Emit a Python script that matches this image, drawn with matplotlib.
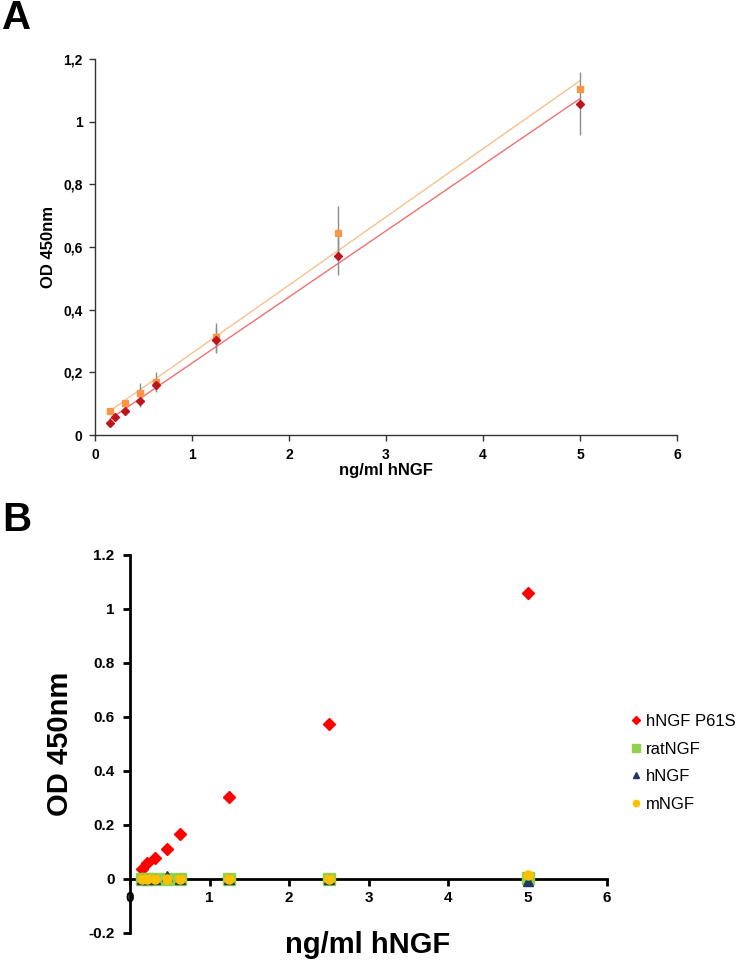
import numpy as np
import matplotlib
matplotlib.use("Agg")
import matplotlib.pyplot as plt

plt.rcParams['font.family'] = ['Liberation Sans', 'DejaVu Sans']

# ---------------- Panel A data ----------------
xA_red = [0.156, 0.208, 0.3125, 0.46875, 0.625, 1.25, 2.5, 5.0]
yA_red = [0.037, 0.056, 0.077, 0.108, 0.158, 0.303, 0.571, 1.057]
eA_red = [0.004, 0.005, 0.008, 0.02, 0.02, 0.04, 0.06, 0.10]

xA_org = [0.156, 0.3125, 0.46875, 0.625, 1.25, 2.5, 5.0]
yA_org = [0.077, 0.101, 0.135, 0.170, 0.314, 0.645, 1.105]
eA_org = [0.004, 0.008, 0.03, 0.03, 0.045, 0.085, 0.01]

xA_ticks = [0, 1, 2, 3, 4, 5, 6]
yA_ticks = [0, 0.2, 0.4, 0.6, 0.8, 1.0, 1.2]
yA_ticklabels = ['0', '0,2', '0,4', '0,6', '0,8', '1', '1,2']

# ---------------- Panel B data ----------------
xB = [0.156, 0.208, 0.3125, 0.46875, 0.625, 1.25, 2.5, 5.0]
yB_p61s = [0.037, 0.058, 0.078, 0.111, 0.166, 0.305, 0.574, 1.06]
yB_rat = [0.0, 0.0, 0.0, 0.0, 0.0, 0.0, 0.0, 0.002]
yB_h = [0.0, 0.0, 0.0, 0.012, 0.0, 0.0, 0.0, -0.008]
yB_m = [0.0, 0.0, 0.0, 0.0, 0.0, 0.0, 0.0, 0.015]
labelsB = ['hNGF P61S', 'ratNGF', 'hNGF', 'mNGF']

xB_ticks = [0, 1, 2, 3, 4, 5, 6]
yB_ticks = [-0.2, 0, 0.2, 0.4, 0.6, 0.8, 1.0, 1.2]
yB_ticklabels = ['-0.2', '0', '0.2', '0.4', '0.6', '0.8', '1', '1.2']

fig = plt.figure(figsize=(7.44, 9.69), dpi=100)

# ================= Panel A =================
axA = fig.add_axes([95/744, 1-435/969, (677-95)/744, (435-59)/969])
axA.set_xlim(0, 6)
axA.set_ylim(0, 1.2)

# trend lines
for xs, ys, col in [(xA_org, yA_org, '#FAC090'), (xA_red, yA_red, '#F07070')]:
    p = np.polyfit(xs, ys, 1)
    xx = np.array([min(xs), max(xs)])
    axA.plot(xx, np.polyval(p, xx), color=col, lw=1.0, zorder=2)

axA.errorbar(xA_org, yA_org, yerr=eA_org, fmt='none', ecolor='#8C8C8C', elinewidth=1.0, capsize=0, zorder=3)
axA.errorbar(xA_red, yA_red, yerr=eA_red, fmt='none', ecolor='#8C8C8C', elinewidth=1.0, capsize=0, zorder=3)
axA.plot(xA_org, yA_org, 's', color='#F79646', ms=5, mec='#F79646', zorder=4)
axA.plot(xA_red, yA_red, 'D', color='#C0141C', ms=4.5, mec='#C0141C', zorder=5)

axA.set_xticks(xA_ticks)
axA.set_yticks(yA_ticks)
axA.set_yticklabels(yA_ticklabels)
for s in ['top', 'right']:
    axA.spines[s].set_visible(False)
for s in ['left', 'bottom']:
    axA.spines[s].set_color('#333333')
    axA.spines[s].set_linewidth(1.0)
axA.tick_params(direction='out', length=4, width=1.0, color='#333333', labelsize=10, pad=5)
for lab in axA.get_xticklabels() + axA.get_yticklabels():
    lab.set_fontweight('bold')
axA.set_xlabel('ng/ml hNGF', fontsize=12, fontweight='bold', labelpad=1)
axA.set_ylabel('OD 450nm', fontsize=12, fontweight='bold', labelpad=5)

fig.text(2/744, 1-18/969, 'A', fontsize=29, fontweight='bold', va='center', ha='left')

# ================= Panel B =================
axB = fig.add_axes([130/744, 1-933/969, (607-130)/744, (933-555)/969])
axB.set_xlim(0, 6)
axB.set_ylim(-0.2, 1.2)

axB.plot(xB, yB_p61s, 'D', color='#FF0000', ms=6.5, mec='#FF0000', label=labelsB[0], zorder=3)
axB.plot(xB, yB_rat, 's', color='#92D050', ms=8, mec='#92D050', label=labelsB[1], zorder=4)
axB.plot(xB, yB_h, '^', color='#1F3864', ms=7, mec='#1F3864', label=labelsB[2], zorder=5)
axB.plot(xB, yB_m, 'o', color='#FFC000', ms=6.5, mec='#FFC000', label=labelsB[3], zorder=6)

axB.spines['bottom'].set_position(('data', 0))
for s in ['top', 'right']:
    axB.spines[s].set_visible(False)
for s in ['left', 'bottom']:
    axB.spines[s].set_color('black')
    axB.spines[s].set_linewidth(2.0)
axB.set_xticks(xB_ticks)
axB.set_yticks(yB_ticks)
axB.set_yticklabels(yB_ticklabels)
axB.tick_params(direction='out', length=5, width=2.0, color='black', labelsize=11)
axB.tick_params(axis='x', pad=4)
axB.tick_params(axis='y', pad=6)
for lab in axB.get_xticklabels() + axB.get_yticklabels():
    lab.set_fontweight('bold')
axB.set_ylabel('OD 450nm', fontsize=21, fontweight='bold', labelpad=10)
fig.text(368/744, 1-945/969, 'ng/ml hNGF', fontsize=21, fontweight='bold',
         ha='center', va='center')

leg = axB.legend(loc='center left', bbox_to_anchor=(1.05, 0.45), frameon=False,
                 fontsize=12, handlelength=0.6, handletextpad=0.3, labelspacing=0.75,
                 markerscale=0.7, borderpad=0, borderaxespad=0)

fig.text(2/744, 1-520/969, 'B', fontsize=29, fontweight='bold', va='center', ha='left')

fig.savefig('out.png', dpi=100)
